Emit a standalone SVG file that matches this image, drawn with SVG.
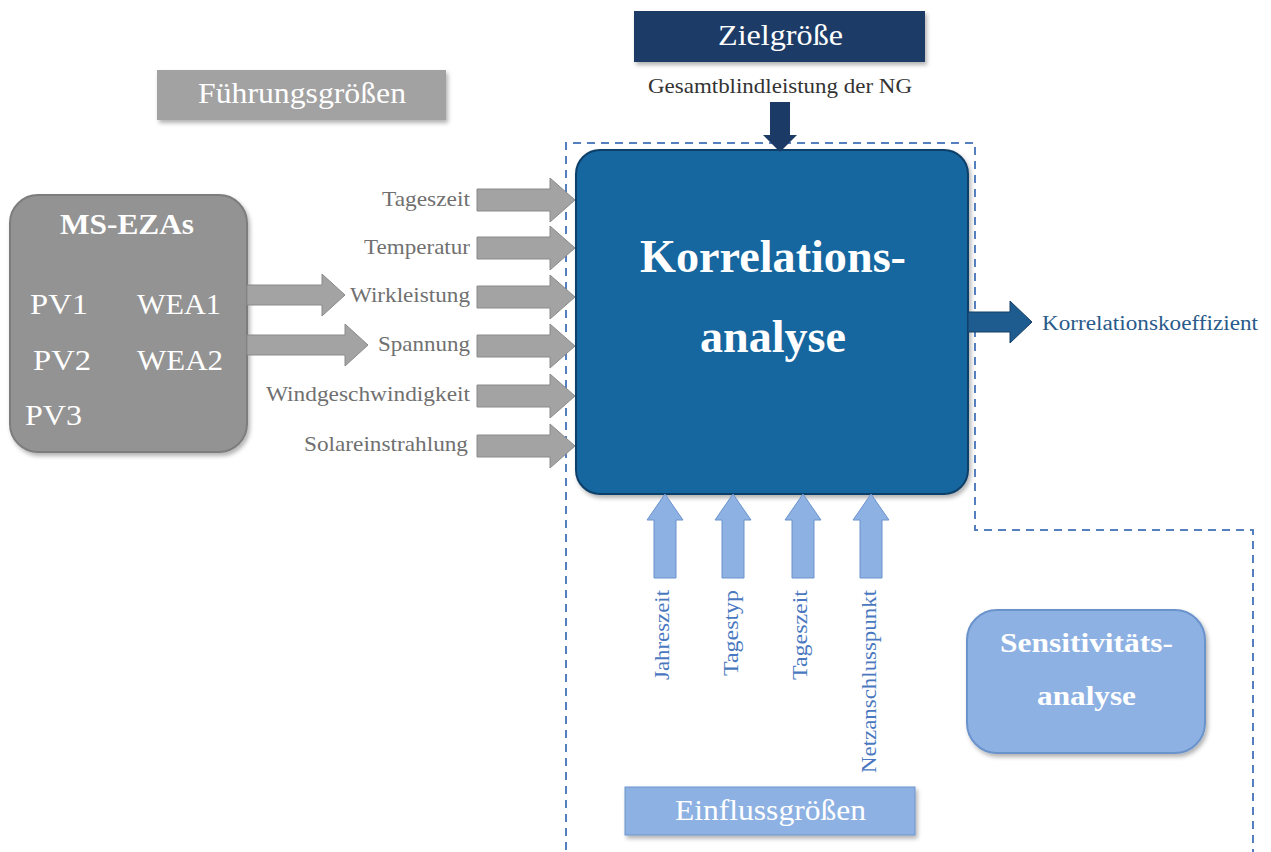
<svg xmlns="http://www.w3.org/2000/svg" width="1271" height="852" viewBox="0 0 1271 852">
<defs>
<filter id="sh" x="-10%" y="-10%" width="130%" height="130%"><feDropShadow dx="2" dy="3" stdDeviation="2" flood-color="#000" flood-opacity="0.3"/></filter>
<style>
text{font-family:"Liberation Serif","DejaVu Serif",serif}
.w{fill:#fff}
.lbl{font-size:21px;fill:#707070;text-anchor:end}
.ga{fill:#a3a3a3;stroke:#8a8a8a;stroke-width:1}
.ba{fill:#8db1e2;stroke:#6b93cc;stroke-width:1}
.vl{font-size:21px;fill:#4a78c0;text-anchor:end}
</style>
</defs>
<rect width="1271" height="852" fill="#fff"/>
<g id="boundary"><polyline points="566,850 566,143 975,143 975,530 1253,530 1253,852" fill="none" stroke="#5580bf" stroke-width="2" stroke-dasharray="8,6"/></g>
<g id="zielgroesse"><rect x="634" y="11" width="291" height="51" fill="#1b3a66" filter="url(#sh)"/><text x="718" y="45" class="w" font-size="30" textLength="125" lengthAdjust="spacingAndGlyphs">Zielgröße</text></g>
<g id="fuehrungsgroessen"><rect x="157" y="70" width="289" height="50" fill="#a2a2a2" filter="url(#sh)"/><text x="198" y="103" class="w" font-size="29" textLength="208" lengthAdjust="spacingAndGlyphs">Führungsgrößen</text></g>
<g id="korrelation"><rect x="576" y="150" width="392" height="344" rx="24" fill="#1566a0" stroke="#0f3f68" stroke-width="2" filter="url(#sh)"/><text x="640" y="272" class="w" font-size="46" font-weight="bold" textLength="266" lengthAdjust="spacingAndGlyphs">Korrelations-</text><text x="700" y="352" class="w" font-size="46" font-weight="bold" textLength="146" lengthAdjust="spacingAndGlyphs">analyse</text></g>
<g id="msezas"><rect x="10" y="195" width="237" height="257" rx="28" fill="#939393" stroke="#7d7d7d" stroke-width="2" filter="url(#sh)"/><text x="60" y="234" class="w" font-size="29" font-weight="bold" textLength="134" lengthAdjust="spacingAndGlyphs">MS-EZAs</text><text x="30" y="314" class="w" font-size="29" textLength="58" lengthAdjust="spacingAndGlyphs">PV1</text><text x="137" y="314" class="w" font-size="29" textLength="84" lengthAdjust="spacingAndGlyphs">WEA1</text><text x="33" y="370" class="w" font-size="29" textLength="58" lengthAdjust="spacingAndGlyphs">PV2</text><text x="137" y="370" class="w" font-size="29" textLength="86" lengthAdjust="spacingAndGlyphs">WEA2</text><text x="25" y="425" class="w" font-size="29" textLength="57" lengthAdjust="spacingAndGlyphs">PV3</text></g>
<g id="sensitivitaet"><rect x="967" y="610" width="238" height="143" rx="30" fill="#8db1e2" stroke="#6b93cc" stroke-width="2" filter="url(#sh)"/><text x="1000" y="652" class="w" font-size="28" font-weight="bold" textLength="173" lengthAdjust="spacingAndGlyphs">Sensitivitäts-</text><text x="1037" y="705" class="w" font-size="28" font-weight="bold" textLength="99" lengthAdjust="spacingAndGlyphs">analyse</text></g>
<g id="einflussgroessen"><rect x="625" y="787" width="290" height="48" fill="#8db1e2" stroke="#6b93cc" stroke-width="1" filter="url(#sh)"/><text x="675" y="820" class="w" font-size="29" textLength="191" lengthAdjust="spacingAndGlyphs">Einflussgrößen</text></g>
<g id="connectors">
<path d="M770,102 H790 V135 H797 L780,152 L763,135 H770 Z" fill="#1b3a66"/>
<path d="M247,285 H322 V274 L345,295 L322,316 V305 H247 Z" class="ga"/>
<path d="M247,335 H345 V324 L368,345 L345,366 V355 H247 Z" class="ga"/>
<path d="M477,189 H550 V178 L575,200 L550,222 V211 H477 Z" class="ga"/>
<path d="M477,237 H550 V226 L575,248 L550,270 V259 H477 Z" class="ga"/>
<path d="M477,286 H550 V275 L575,297 L550,319 V308 H477 Z" class="ga"/>
<path d="M477,335 H550 V324 L575,346 L550,368 V357 H477 Z" class="ga"/>
<path d="M477,385 H550 V374 L575,396 L550,418 V407 H477 Z" class="ga"/>
<path d="M477,435 H550 V424 L575,446 L550,468 V457 H477 Z" class="ga"/>
<path d="M968,312 H1010 V301 L1032,322 L1010,343 V332 H968 Z" fill="#1e5b8f" stroke="#163f66" stroke-width="1"/>
<path d="M654,578 V520 H647 L665,494 L683,520 H676 V578 Z" class="ba"/>
<path d="M722,578 V520 H715 L733,494 L751,520 H744 V578 Z" class="ba"/>
<path d="M792,578 V520 H785 L803,494 L821,520 H814 V578 Z" class="ba"/>
<path d="M860,578 V520 H853 L871,494 L889,520 H882 V578 Z" class="ba"/>
</g>
<g id="labels">
<text x="648" y="93" font-size="21" fill="#333" textLength="264" lengthAdjust="spacingAndGlyphs">Gesamtblindleistung der NG</text>
<text x="470" y="206" class="lbl" textLength="88" lengthAdjust="spacingAndGlyphs">Tageszeit</text>
<text x="470" y="254" class="lbl" textLength="106" lengthAdjust="spacingAndGlyphs">Temperatur</text>
<text x="470" y="302" class="lbl" textLength="120" lengthAdjust="spacingAndGlyphs">Wirkleistung</text>
<text x="470" y="351" class="lbl" textLength="92" lengthAdjust="spacingAndGlyphs">Spannung</text>
<text x="470" y="401" class="lbl" textLength="204" lengthAdjust="spacingAndGlyphs">Windgeschwindigkeit</text>
<text x="468" y="451" class="lbl" textLength="164" lengthAdjust="spacingAndGlyphs">Solareinstrahlung</text>
<text x="1042" y="330" font-size="20" fill="#2a5a8a" textLength="216" lengthAdjust="spacingAndGlyphs">Korrelationskoeffizient</text>
<text transform="translate(669,590) rotate(-90)" class="vl" textLength="90" lengthAdjust="spacingAndGlyphs">Jahreszeit</text>
<text transform="translate(738,590) rotate(-90)" class="vl" textLength="86" lengthAdjust="spacingAndGlyphs">Tagestyp</text>
<text transform="translate(807,590) rotate(-90)" class="vl" textLength="90" lengthAdjust="spacingAndGlyphs">Tageszeit</text>
<text transform="translate(876,590) rotate(-90)" class="vl" textLength="183" lengthAdjust="spacingAndGlyphs">Netzanschlusspunkt</text>
</g>
</svg>
